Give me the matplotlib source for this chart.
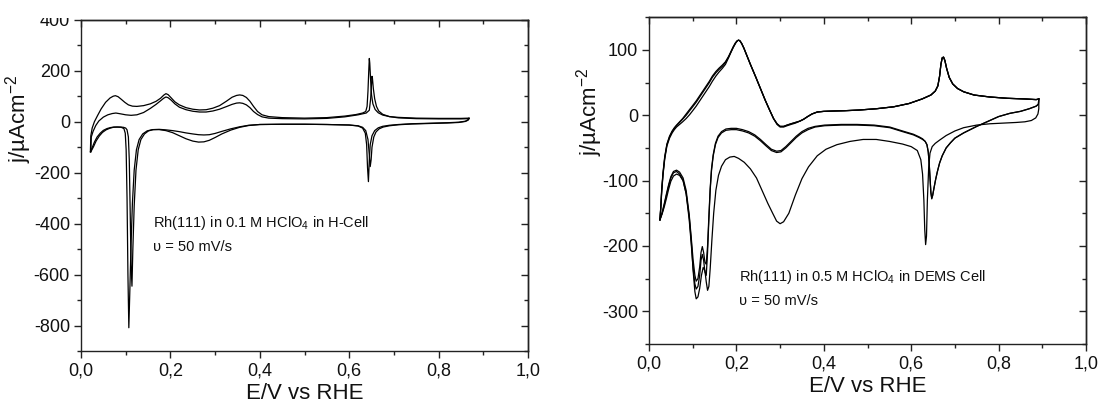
import matplotlib
matplotlib.use('Agg')
import matplotlib.pyplot as plt
from matplotlib.ticker import MultipleLocator, FuncFormatter
from matplotlib.patches import Rectangle

# ---------------- data: left panel (0.1 M HClO4, H-Cell) ----------------
L_A_an_E = [0.021, 0.022, 0.025, 0.030, 0.037, 0.045, 0.055, 0.065, 0.072, 0.077, 0.083, 0.090, 0.098, 0.106, 0.115,
            0.125, 0.140, 0.155, 0.168, 0.178, 0.185, 0.190, 0.195, 0.202, 0.210, 0.220, 0.235, 0.250, 0.265, 0.280,
            0.295, 0.310, 0.325, 0.338, 0.348, 0.355, 0.362, 0.370, 0.378, 0.386, 0.395, 0.405, 0.420, 0.450, 0.500,
            0.550, 0.590, 0.615, 0.630, 0.637, 0.640, 0.642, 0.644, 0.645, 0.646, 0.648, 0.650, 0.653, 0.658, 0.665,
            0.675, 0.690, 0.710, 0.750, 0.800, 0.850, 0.868]
L_A_an_j = [-118, -55, -25, 0, 24, 50, 76, 93, 100, 102, 98, 88, 76, 66, 61,
            60, 63, 70, 80, 92, 104, 110, 106, 93, 78, 66, 55, 49, 46, 47,
            53, 63, 80, 96, 103, 105, 103, 95, 80, 60, 40, 27, 20, 16, 14,
            16, 22, 28, 34, 40, 60, 120, 210, 248, 230, 160, 105, 70, 48, 35,
            26, 20, 17, 14, 13, 13, 14]

L_B_an_E = [0.022, 0.023, 0.027, 0.033, 0.040, 0.050, 0.060, 0.070, 0.078, 0.088, 0.100, 0.112, 0.125, 0.140, 0.155,
            0.168, 0.178, 0.185, 0.190, 0.195, 0.202, 0.210, 0.220, 0.235, 0.250, 0.265, 0.280, 0.295, 0.310, 0.325,
            0.338, 0.348, 0.355, 0.362, 0.370, 0.378, 0.386, 0.395, 0.405, 0.420, 0.450, 0.500, 0.550, 0.590, 0.620,
            0.638, 0.645, 0.648, 0.650, 0.651, 0.652, 0.654, 0.657, 0.661, 0.666, 0.675, 0.690, 0.710, 0.750, 0.800,
            0.850, 0.868]
L_B_an_j = [-118, -60, -38, -15, 3, 18, 27, 32, 34, 31, 27, 25, 27, 36, 52,
            68, 82, 92, 97, 94, 84, 70, 57, 47, 41, 38, 38, 42, 49, 59,
            68, 73, 74, 72, 66, 55, 40, 28, 19, 14, 12, 11, 13, 19, 27,
            34, 45, 90, 150, 178, 170, 130, 90, 60, 42, 29, 20, 15, 12, 11,
            11, 12]

L_A_ca_E = [0.868, 0.866, 0.860, 0.845, 0.820, 0.780, 0.740, 0.710, 0.690, 0.675, 0.665, 0.657, 0.651, 0.647, 0.645,
            0.643, 0.641, 0.639, 0.636, 0.630, 0.620, 0.600, 0.550, 0.500, 0.450, 0.400, 0.375, 0.355, 0.335, 0.315,
            0.300, 0.287, 0.275, 0.263, 0.250, 0.235, 0.220, 0.205, 0.190, 0.175, 0.160, 0.148, 0.138, 0.130, 0.124,
            0.119, 0.115, 0.112, 0.109, 0.107, 0.105, 0.103, 0.101, 0.099, 0.096, 0.090, 0.082, 0.074, 0.066, 0.058,
            0.050, 0.043, 0.036, 0.030, 0.025, 0.021]
L_A_ca_j = [14, 8, 2, -2, -4, -6, -8, -11, -14, -18, -24, -35, -55, -90, -150,
            -235, -180, -90, -45, -25, -17, -13, -11, -10, -10, -11, -15, -22, -33, -48,
            -62, -73, -79, -80, -76, -67, -55, -43, -35, -31, -31, -36, -48, -70, -110,
            -190, -320, -480, -680, -808, -600, -300, -110, -45, -27, -22, -21, -21, -23, -27,
            -34, -45, -60, -80, -102, -118]

L_B_ca_E = [0.868, 0.866, 0.860, 0.845, 0.820, 0.780, 0.740, 0.710, 0.690, 0.676, 0.667, 0.660, 0.655, 0.651, 0.649,
            0.647, 0.645, 0.642, 0.637, 0.630, 0.620, 0.600, 0.550, 0.500, 0.450, 0.400, 0.375, 0.355, 0.335, 0.315,
            0.300, 0.287, 0.275, 0.263, 0.250, 0.235, 0.220, 0.205, 0.190, 0.175, 0.162, 0.151, 0.142, 0.134, 0.128,
            0.123, 0.119, 0.116, 0.114, 0.112, 0.110, 0.108, 0.106, 0.103, 0.100, 0.095, 0.088, 0.080, 0.072, 0.064,
            0.056, 0.048, 0.041, 0.034, 0.028, 0.022]
L_B_ca_j = [12, 6, 1, -3, -5, -7, -9, -12, -16, -21, -28, -40, -60, -100, -150,
            -176, -130, -70, -35, -22, -16, -13, -11, -10, -10, -11, -14, -20, -28, -38,
            -46, -51, -52, -51, -48, -44, -39, -35, -32, -30, -31, -36, -48, -70, -110,
            -190, -330, -500, -645, -560, -350, -150, -60, -32, -25, -22, -21, -21, -22, -26,
            -32, -42, -56, -75, -98, -118]

# ---------------- data: right panel (0.5 M HClO4, DEMS Cell) ----------------
R_an_E = [0.025, 0.027, 0.029, 0.032, 0.036, 0.041, 0.047, 0.053, 0.058, 0.063, 0.070, 0.077, 0.085, 0.093, 0.100,
          0.108, 0.115, 0.123, 0.130, 0.138, 0.145, 0.153, 0.160, 0.168, 0.175, 0.182, 0.188, 0.193, 0.198, 0.202,
          0.205, 0.208, 0.212, 0.217, 0.223, 0.232, 0.244, 0.255, 0.266, 0.276, 0.285, 0.293, 0.300, 0.308, 0.316,
          0.325, 0.335, 0.345, 0.354, 0.363, 0.373, 0.385, 0.400, 0.420, 0.448, 0.480, 0.520, 0.560, 0.595, 0.625,
          0.645, 0.655, 0.661, 0.665, 0.668, 0.671, 0.674, 0.677, 0.681, 0.687, 0.695, 0.706, 0.720, 0.744, 0.780,
          0.820, 0.860, 0.886, 0.892]
R_an1_j = [-160, -140, -114, -88, -63, -44, -32, -24, -19, -15, -10, -5, 2, 9, 15,
           22, 29, 37, 44, 52, 60, 67, 72, 77, 82, 90, 98, 105, 111, 114,
           115, 114, 110, 103, 93, 78, 59, 41, 23, 8, -5, -13, -17, -17, -15,
           -13, -11, -9, -6, -2, 2, 5, 6, 6.5, 7, 8, 10, 13, 18, 25,
           31, 37, 45, 60, 78, 88, 89, 84, 72, 58, 48, 41, 36, 31, 28,
           26, 25, 24, 25]
R_an2_j = [-160, -142, -118, -92, -67, -47, -35, -27, -22, -18, -14, -10, -5, 1, 7,
           14, 21, 29, 36, 44, 52, 60, 66, 72, 78, 88, 97, 104, 110, 114,
           115, 114, 110, 103, 93, 78, 59, 41, 23, 8, -5, -14, -18, -18, -16,
           -14, -12, -9, -6, -2, 2, 5, 6, 6.5, 7, 8, 10, 13, 18, 25,
           31, 37, 45, 60, 78, 88, 89, 84, 72, 58, 48, 41, 36, 31, 28,
           26, 25, 24, 25]
R_an3_j = [-160, -141, -116, -90, -65, -45, -33, -25, -20, -16, -11, -6, 0, 7, 13,
           20, 27, 35, 42, 50, 58, 65, 70, 75, 81, 89, 98, 105, 111, 114,
           115, 114, 110, 103, 93, 78, 59, 41, 23, 8, -5, -13, -17, -17, -15,
           -13, -11, -9, -6, -2, 2, 5, 6, 6.5, 7, 8, 10, 13, 18, 25,
           31, 37, 45, 60, 78, 88, 89, 84, 72, 58, 48, 41, 36, 31, 28,
           26, 25, 24, 25]

R_ca_E = [0.892, 0.891, 0.886, 0.870, 0.850, 0.826, 0.800, 0.780, 0.750, 0.720, 0.700, 0.690, 0.680, 0.671, 0.665,
          0.660, 0.656, 0.652, 0.649, 0.647, 0.645, 0.643, 0.641, 0.639, 0.636, 0.632, 0.626, 0.618, 0.605, 0.580,
          0.551, 0.515, 0.476, 0.440, 0.402, 0.380, 0.364, 0.350, 0.337, 0.325, 0.313, 0.302, 0.292, 0.280, 0.268,
          0.255, 0.242, 0.228, 0.214, 0.200, 0.188, 0.176, 0.166, 0.158, 0.152, 0.147, 0.143, 0.140, 0.137, 0.134,
          0.131, 0.128, 0.125, 0.122, 0.119, 0.116, 0.112, 0.108, 0.105, 0.101, 0.097, 0.092, 0.085, 0.078, 0.070,
          0.063, 0.056, 0.050, 0.045, 0.040, 0.035, 0.030, 0.025]
R_ca2_j = [25, 17, 14, 10, 6, 3, -2, -8, -17, -27, -35, -42, -50, -62, -73,
           -86, -98, -112, -123, -127, -118, -95, -72, -56, -45, -40, -37, -34, -30, -25,
           -19, -16, -15, -15, -16, -18, -22, -27, -34, -42, -50, -56, -57, -54, -47,
           -39, -32, -27, -24, -22, -22, -23, -27, -34, -45, -62, -85, -115, -160, -210,
           -245, -240, -222, -213, -222, -245, -262, -266, -258, -235, -200, -160, -120, -100, -90,
           -86, -88, -96, -108, -122, -137, -150, -160]
R_ca3_j = [25, 17, 14, 10, 6, 3, -2, -8, -17, -27, -35, -42, -50, -62, -73,
           -86, -98, -112, -123, -128, -118, -95, -72, -56, -45, -40, -36, -33, -29, -24,
           -18, -15, -14, -14, -15, -17, -20, -25, -32, -40, -48, -54, -55, -52, -45,
           -37, -30, -25, -22, -20, -20, -21, -25, -32, -43, -60, -82, -112, -155, -200,
           -228, -225, -210, -201, -210, -232, -250, -254, -245, -222, -190, -152, -115, -96, -87,
           -84, -86, -94, -106, -120, -135, -149, -160]

R_ca1_E = [0.892, 0.892, 0.890, 0.885, 0.875, 0.860, 0.840, 0.810, 0.780, 0.750, 0.720, 0.700, 0.680, 0.665, 0.655,
           0.648, 0.643, 0.640, 0.637, 0.635, 0.633, 0.631, 0.629, 0.626, 0.622, 0.614, 0.600, 0.580, 0.550, 0.520,
           0.490, 0.460, 0.430, 0.405, 0.385, 0.365, 0.350, 0.335, 0.320, 0.308, 0.300, 0.292, 0.283, 0.272, 0.260,
           0.246, 0.232, 0.218, 0.205, 0.195, 0.185, 0.175, 0.166, 0.159, 0.153, 0.148, 0.144, 0.140, 0.137, 0.134,
           0.131, 0.128, 0.124, 0.120, 0.116, 0.112, 0.108, 0.105, 0.101, 0.097, 0.092, 0.085, 0.078, 0.070, 0.063,
           0.056, 0.050, 0.045, 0.040, 0.035, 0.030, 0.025]
R_ca1_j = [25, 10, 2, -4, -8, -10, -11, -12, -13, -15, -19, -24, -31, -38, -43,
           -48, -58, -80, -130, -185, -198, -175, -130, -90, -68, -54, -48, -44, -40, -37,
           -37, -40, -45, -52, -62, -79, -97, -122, -150, -163, -166, -162, -150, -135, -117,
           -96, -82, -72, -66, -63, -64, -68, -78, -92, -115, -150, -190, -235, -262, -268,
           -255, -238, -233, -245, -265, -278, -281, -270, -238, -195, -155, -120, -100, -92, -90,
           -93, -101, -113, -127, -140, -151, -160]

# tick / text content
L_yticks = [-800, -600, -400, -200, 0, 200, 400]
R_yticks = [-300, -200, -100, 0, 100]
x_ticks = [0.0, 0.2, 0.4, 0.6, 0.8, 1.0]
L_note = ['Rh(111) in 0.1 M HClO$_4$ in H-Cell', '\u03c5 = 50 mV/s']
R_note = ['Rh(111) in 0.5 M HClO$_4$ in DEMS Cell', '\u03c5 = 50 mV/s']
x_label = 'E/V vs RHE'
y_label = 'j/\u00b5Acm$^{-2}$'

# ---------------- style ----------------
plt.rcParams['font.family'] = ['Liberation Sans', 'DejaVu Sans']
plt.rcParams['mathtext.fontset'] = 'custom'
plt.rcParams['mathtext.rm'] = 'Liberation Sans'
plt.rcParams['mathtext.it'] = 'Liberation Sans'
plt.rcParams['mathtext.bf'] = 'Liberation Sans:bold'
plt.rcParams['axes.unicode_minus'] = False

W, H = 1101, 405
fig = plt.figure(figsize=(W / 100, H / 100), dpi=100)


def add_axes_px(x0, x1, ytop, ybot):
    return fig.add_axes([x0 / W, 1 - ybot / H, (x1 - x0) / W, (ybot - ytop) / H])


xfmt = FuncFormatter(lambda v, p: ('%.1f' % v).replace('.', ','))
yfmt = FuncFormatter(lambda v, p: '%d' % round(v))
LW = 0.9
SPW = 1.0
TICK_FS = 13
LABEL_FS = 16


def style(ax, ylim, yticks, yminor, ylab_pos):
    ax.set_xlim(0, 1)
    ax.set_ylim(*ylim)
    ax.set_xticks(x_ticks)
    ax.xaxis.set_minor_locator(MultipleLocator(0.1))
    ax.set_yticks(yticks)
    ax.yaxis.set_minor_locator(MultipleLocator(yminor))
    ax.xaxis.set_major_formatter(xfmt)
    ax.yaxis.set_major_formatter(yfmt)
    ax.tick_params(which='both', direction='out', top=False, right=False, width=SPW,
                   labelsize=TICK_FS, pad=3, colors='#222222', labelcolor='#111111')
    ax.tick_params(which='major', length=5)
    ax.tick_params(which='minor', length=3)
    for s in ax.spines.values():
        s.set_linewidth(SPW)
        s.set_color('#222222')
    sx = ax.secondary_xaxis('top')
    sx.set_xticks(x_ticks)
    sx.xaxis.set_minor_locator(MultipleLocator(0.1))
    sx.tick_params(which='both', direction='in', labeltop=False, width=SPW, color='#222222')
    sx.tick_params(which='major', length=5)
    sx.tick_params(which='minor', length=3)
    sx.spines['top'].set_linewidth(SPW)
    sy = ax.secondary_yaxis('right')
    sy.set_yticks(yticks)
    sy.yaxis.set_minor_locator(MultipleLocator(yminor))
    sy.tick_params(which='both', direction='in', labelright=False, width=SPW, color='#222222')
    sy.tick_params(which='major', length=5)
    sy.tick_params(which='minor', length=3)
    sy.spines['right'].set_linewidth(SPW)
    ax.set_xlabel(x_label, fontsize=LABEL_FS, labelpad=3, color='#111111')
    ax.set_ylabel(y_label, fontsize=LABEL_FS, color='#111111')
    ax.yaxis.set_label_coords(*ylab_pos)


# left panel
ax1 = add_axes_px(81, 528, 19.7, 351.2)
for E, j in [(L_A_an_E, L_A_an_j), (L_B_an_E, L_B_an_j), (L_A_ca_E, L_A_ca_j), (L_B_ca_E, L_B_ca_j)]:
    ax1.plot(E, j, color='black', lw=LW)
style(ax1, (-900, 400), L_yticks, 100, (-0.105, 0.70))
ax1.text(0.16, -412, L_note[0], fontsize=10.5, va='baseline', ha='left', color='#111111')
ax1.text(0.16, -506, L_note[1], fontsize=10.5, va='baseline', ha='left', color='#111111')

# right panel
ax2 = add_axes_px(649, 1086, 17.3, 343.9)
for E, j in [(R_an_E, R_an1_j), (R_an_E, R_an2_j), (R_an_E, R_an3_j),
             (R_ca_E, R_ca2_j), (R_ca_E, R_ca3_j), (R_ca1_E, R_ca1_j)]:
    ax2.plot(E, j, color='black', lw=LW)
style(ax2, (-350, 150), R_yticks, 50, (-0.10, 0.71))
ax2.text(0.205, -253, R_note[0], fontsize=10.5, va='baseline', ha='left', color='#111111')
ax2.text(0.205, -290, R_note[1], fontsize=10.5, va='baseline', ha='left', color='#111111')

# the top of the original figure is cropped (cuts the "400" label)
fig.add_artist(Rectangle((0, 1 - 18 / H), 75 / W, 18 / H, transform=fig.transFigure,
                         facecolor='white', edgecolor='none', zorder=10))

fig.savefig('out.png', dpi=100, facecolor='white')
